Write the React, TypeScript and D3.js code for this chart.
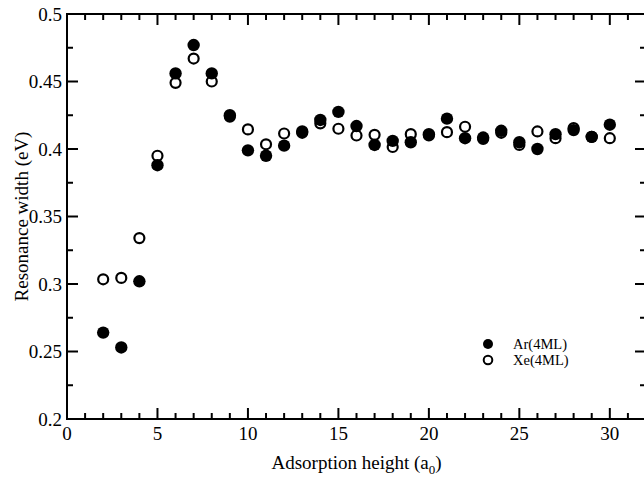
import React from "react";
import * as d3 from "d3";

const heights = [2,3,4,5,6,7,8,9,10,11,12,13,14,15,16,17,18,19,20,21,22,23,24,25,26,27,28,29,30];
const arWidth = [0.264,0.253,0.302,0.388,0.456,0.477,0.456,0.425,0.399,0.395,0.4025,0.413,0.4215,0.4275,0.417,0.403,0.406,0.405,0.411,0.4225,0.408,0.4085,0.4135,0.405,0.400,0.411,0.414,0.409,0.418];
const xeWidth = [0.3035,0.3045,0.334,0.395,0.449,0.467,0.450,0.424,0.4145,0.4035,0.4115,0.412,0.419,0.415,0.410,0.4105,0.4015,0.411,0.410,0.4125,0.4165,0.4075,0.412,0.403,0.413,0.408,0.4155,0.409,0.408];
const xMajorTicks = [0,5,10,15,20,25,30];
const yMajorTicks = [0.2,0.25,0.3,0.35,0.4,0.45,0.5];
const yTickLabels = ["0.2","0.25","0.3","0.35","0.4","0.45","0.5"];
const legendLabels = ["Ar(4ML)", "Xe(4ML)"];

const W = 644, H = 478;
const FONT = "'Liberation Serif', 'Times New Roman', serif";

export default function App() {
  const x = d3.scaleLinear().domain([0, 32]).range([67, 646]);
  const y = d3.scaleLinear().domain([0.2, 0.5]).range([419, 14]);
  const [x0, x1] = x.range();
  const [yb, yt] = y.range();
  const xMinor = d3.range(0, 33, 1).filter(v => v % 5 !== 0);
  const yMinor = d3.range(0.225, 0.5, 0.05);
  const major = 11, minor = 6;
  const ar = heights.map((h, i) => ({ h, v: arWidth[i] }));
  const xe = heights.map((h, i) => ({ h, v: xeWidth[i] }));

  return (
    <svg width={W} height={H} style={{ position: "absolute", left: 0, top: 0, background: "#fff" }} fontFamily={FONT}>
      <rect x={0} y={0} width={W} height={H} fill="#fff" />
      {/* frame */}
      <g stroke="#000" strokeWidth={2} fill="none">
        <rect x={x0} y={yt} width={x1 - x0} height={yb - yt} />
        {xMajorTicks.map(t => (
          <g key={"xM" + t}>
            <line x1={x(t)} x2={x(t)} y1={yb} y2={yb - major} />
            <line x1={x(t)} x2={x(t)} y1={yt} y2={yt + major} />
          </g>
        ))}
        {xMinor.map(t => (
          <g key={"xm" + t}>
            <line x1={x(t)} x2={x(t)} y1={yb} y2={yb - minor} />
            <line x1={x(t)} x2={x(t)} y1={yt} y2={yt + minor} />
          </g>
        ))}
        {yMajorTicks.map(t => (
          <g key={"yM" + t}>
            <line x1={x0} x2={x0 + major} y1={y(t)} y2={y(t)} />
            <line x1={x1} x2={x1 - major} y1={y(t)} y2={y(t)} />
          </g>
        ))}
        {yMinor.map(t => (
          <g key={"ym" + t}>
            <line x1={x0} x2={x0 + minor} y1={y(t)} y2={y(t)} />
            <line x1={x1} x2={x1 - minor} y1={y(t)} y2={y(t)} />
          </g>
        ))}
      </g>
      {/* tick labels */}
      <g fontSize={19} fill="#000">
        {xMajorTicks.map(t => (
          <text key={"xl" + t} x={x(t)} y={440} textAnchor="middle">{t}</text>
        ))}
        {yMajorTicks.map((t, i) => (
          <text key={"yl" + t} x={62} y={y(t)} dy="0.35em" textAnchor="end">{yTickLabels[i]}</text>
        ))}
      </g>
      {/* axis titles */}
      <text x={(x0 + x1) / 2} y={469} textAnchor="middle" fontSize={19}>
        Adsorption height (a<tspan fontSize={13} dy={5}>0</tspan><tspan dy={-5}>)</tspan>
      </text>
      <text transform={`translate(28, ${(yt + yb) / 2}) rotate(-90)`} textAnchor="middle" fontSize={19}>
        Resonance width (eV)
      </text>
      {/* data */}
      <g>
        {xe.map(d => (
          <circle key={"xe" + d.h} cx={x(d.h)} cy={y(d.v)} r={5} fill="none" stroke="#000" strokeWidth={2.2} />
        ))}
        {ar.map(d => (
          <circle key={"ar" + d.h} cx={x(d.h)} cy={y(d.v)} r={6.2} fill="#000" />
        ))}
      </g>
      {/* legend */}
      <g fontSize={14.5}>
        <circle cx={488} cy={344} r={5} fill="#000" />
        <text x={513} y={349}>{legendLabels[0]}</text>
        <circle cx={488} cy={360} r={4.3} fill="none" stroke="#000" strokeWidth={2} />
        <text x={513} y={365}>{legendLabels[1]}</text>
      </g>
    </svg>
  );
}
